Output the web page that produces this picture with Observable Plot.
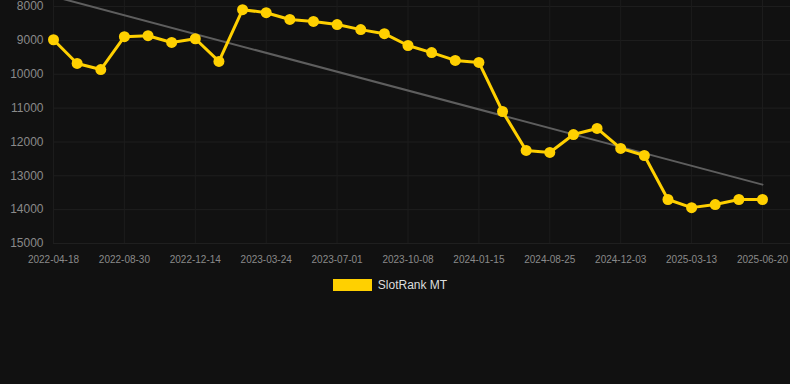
<!DOCTYPE html>
<html>
<head>
<meta charset="utf-8">
<script src="https://cdn.jsdelivr.net/npm/d3@7"></script>
<script src="https://cdn.jsdelivr.net/npm/@observablehq/plot@0.6"></script>
<style>
  html, body { margin: 0; padding: 0; background: #111111; }
  body { width: 790px; height: 384px; overflow: hidden; font-family: "Liberation Sans", Arial, sans-serif; }
  #legend { display: flex; justify-content: center; align-items: center; margin-top: 8px; color: #dddddd; font-size: 12px; transform: translateX(-5px); }
  #legend .sw { width: 39px; height: 12px; background: #FFD000; margin-right: 6px; }
</style>
</head>
<body>
<div id="chart"></div>
<div id="legend"><span class="sw"></span><span>SlotRank MT</span></div>
<script>
const dates = [
  "2022-04-18","2022-06-02","2022-07-16","2022-08-30","2022-10-04","2022-11-09",
  "2022-12-14","2023-01-20","2023-02-25","2023-03-24","2023-04-27","2023-05-29",
  "2023-07-01","2023-08-03","2023-09-05","2023-10-08","2023-11-10","2023-12-13",
  "2024-01-15","2024-03-30","2024-06-12","2024-08-25","2024-09-27","2024-10-31",
  "2024-12-03","2025-01-05","2025-02-08","2025-03-13","2025-04-15","2025-05-18",
  "2025-06-20"
];
const ranks = [
  8980, 9680, 9860, 8890, 8860, 9060,
  8950, 9620, 8090, 8180, 8380, 8440,
  8530, 8680, 8800, 9150, 9360, 9590,
  9650, 11100, 12250, 12310, 11780, 11600,
  12190, 12400, 13700, 13940, 13850, 13700,
  13700
];
const trendDates = ["2022-04-18", "2025-06-20"];
const trendValues = [7700, 13260];
const yTicks = [8000, 9000, 10000, 11000, 12000, 13000, 14000, 15000];
const xTickDates = dates.filter((d, i) => i % 3 === 0);

const idx = d => dates.indexOf(d);
const data = dates.map((d, i) => ({i, rank: ranks[i]}));
const trend = trendDates.map((d, k) => ({i: idx(d), rank: trendValues[k]}));
const xTicks = xTickDates.map(idx);

const chart = Plot.plot({
  width: 790,
  height: 270,
  marginTop: 0,
  marginBottom: 27,
  marginLeft: 53,
  marginRight: 0,
  style: {background: "#111111", fontFamily: "Liberation Sans, Arial, sans-serif"},
  x: {type: "linear", domain: [0, dates.length - 1], range: [53, 762]},
  y: {domain: [7820, 15000], reverse: true},
  marks: [
    Plot.ruleY(yTicks, {stroke: "#1f1f1f", strokeWidth: 1}),
    Plot.ruleX(xTicks, {y1: 7820, y2: 15000, stroke: "#1c1c1c", strokeWidth: 1}),
    Plot.axisY({ticks: yTicks, tickSize: 0, tickPadding: 10, fontSize: 12, fill: "#8a8a8a", label: null, tickFormat: d => String(d)}),
    Plot.axisX({ticks: xTicks, tickSize: 0, tickPadding: 12, fontSize: 10, fill: "#8a8a8a", label: null, tickFormat: i => dates[i]}),
    Plot.line(trend, {x: "i", y: "rank", stroke: "#5e5e5e", strokeWidth: 2, clip: true}),
    Plot.line(data, {x: "i", y: "rank", stroke: "#FFD000", strokeWidth: 3}),
    Plot.dot(data, {x: "i", y: "rank", r: 5.5, fill: "#FFD000", stroke: "none"})
  ]
});
document.getElementById("chart").appendChild(chart);
</script>
</body>
</html>
